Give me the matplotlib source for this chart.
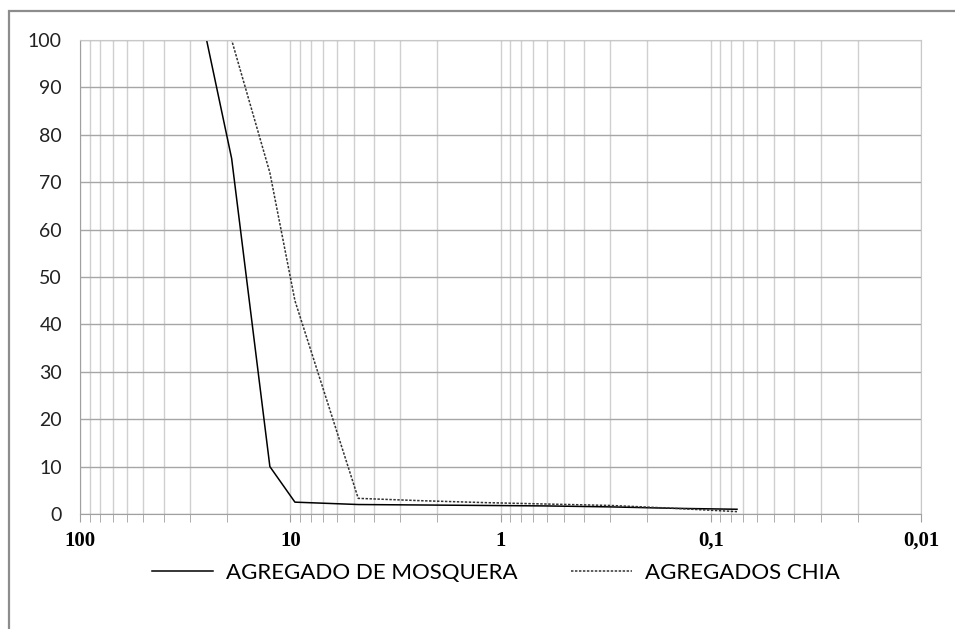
import numpy as np
import matplotlib
matplotlib.use('Agg')
from matplotlib import pyplot as plt
from matplotlib import ticker
from matplotlib.patches import Rectangle

plt.rcParams['font.family'] = ['Lato', 'DejaVu Sans']

# abertura del tamiz (mm) y porcentaje que pasa
tamiz = [25, 19, 12.5, 9.5, 4.75, 2.36, 1.18, 0.6, 0.3, 0.15, 0.075]
mosquera = [100, 75, 10, 2.5, 2.0, 1.9, 1.8, 1.7, 1.5, 1.2, 1.0]
chia = [100, 100, 72, 45, 3.3, 2.8, 2.4, 2.1, 1.8, 1.2, 0.5]
x_ticks = [100, 10, 1, 0.1, 0.01]
x_labels = ['100', '10', '1', '0,1', '0,01']

fig = plt.figure(figsize=(9.55, 6.29), dpi=100)
ax = fig.add_axes([80 / 955, 1 - 514 / 629, 841 / 955, 474 / 629])

# marco exterior (recortado a la derecha y abajo)
fig.patches.append(Rectangle((9 / 955, -0.1), 1.2, (1 - 11 / 629) + 0.1,
                             transform=fig.transFigure, fill=False,
                             edgecolor='#8c8c8c', linewidth=1.6))

ax.plot(tamiz, mosquera, color='black', linewidth=1.1, label='AGREGADO DE MOSQUERA')
ax.plot(tamiz, chia, color='#333333', linewidth=1.1, linestyle=(0, (1.6, 1.0)),
        label='AGREGADOS CHIA')

ax.set_xscale('log')
ax.set_xlim(100, 0.01)
ax.set_ylim(0, 100)
ax.set_yticks(np.arange(0, 101, 10))

ax.xaxis.set_major_locator(ticker.FixedLocator(x_ticks))
ax.xaxis.set_major_formatter(ticker.FixedFormatter(x_labels))
ax.xaxis.set_minor_locator(ticker.LogLocator(base=10, subs=np.arange(2, 10)))
ax.xaxis.set_minor_formatter(ticker.NullFormatter())

ax.grid(True, axis='y', color='#a6a6a6', linewidth=1.0)
ax.grid(True, axis='x', which='both', color='#d0d0d0', linewidth=1.0)
ax.set_axisbelow(True)

for s in ['top', 'right']:
    ax.spines[s].set_color('#c8c8c8')
ax.spines['left'].set_color('#a0a0a0')
ax.spines['bottom'].set_color('#a0a0a0')

ax.tick_params(axis='y', length=0, pad=13, labelsize=14, labelcolor='#222222')
ax.tick_params(axis='x', which='major', direction='out', length=6, color='#a0a0a0',
               pad=6, labelsize=15)
ax.tick_params(axis='x', which='minor', direction='out', length=6, color='#a0a0a0')
for lb in ax.get_xticklabels():
    lb.set_fontweight('bold')
    lb.set_family(['Liberation Serif', 'DejaVu Serif'])

fig.legend(loc='center', bbox_to_anchor=(496 / 955, 1 - 573 / 629), ncol=2, frameon=False,
           fontsize=16, handlelength=2.75, handletextpad=0.6, columnspacing=2.4)

fig.savefig('out.png', dpi=100)
